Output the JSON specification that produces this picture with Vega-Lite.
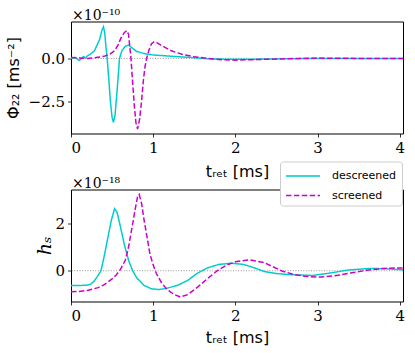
{
  "$schema": "https://vega.github.io/schema/vega-lite/v6.json",
  "padding": {"left": 4, "top": 7.5, "right": 4, "bottom": 2},
  "background": "white",
  "bounds": "flush",
  "spacing": 56,
  "config": {
    "view": {"stroke": "black", "strokeWidth": 1},
    "axis": {
      "grid": false,
      "domain": false,
      "ticks": true,
      "tickColor": "black",
      "tickSize": 3.5,
      "tickWidth": 0.8,
      "labelFont": "DejaVu Serif",
      "labelFontSize": 15,
      "labelColor": "black",
      "labelPadding": 3,
      "titleColor": "black",
      "titleFontWeight": "normal"
    }
  },
  "resolve": {"legend": {"color": "independent", "strokeDash": "independent"}},
  "datasets": {
    "phi": [
      {"t": 0, "v": 0.0, "s": "descreened"},
      {"t": 0.05, "v": 0.05, "s": "descreened"},
      {"t": 0.08, "v": -0.05, "s": "descreened"},
      {"t": 0.1, "v": -0.12, "s": "descreened"},
      {"t": 0.13, "v": 0.0, "s": "descreened"},
      {"t": 0.15, "v": 0.1, "s": "descreened"},
      {"t": 0.18, "v": 0.04, "s": "descreened"},
      {"t": 0.2, "v": 0.15, "s": "descreened"},
      {"t": 0.22, "v": 0.2, "s": "descreened"},
      {"t": 0.25, "v": 0.3, "s": "descreened"},
      {"t": 0.285, "v": 0.44, "s": "descreened"},
      {"t": 0.32, "v": 0.8, "s": "descreened"},
      {"t": 0.35, "v": 1.12, "s": "descreened"},
      {"t": 0.375, "v": 1.6, "s": "descreened"},
      {"t": 0.395, "v": 1.83, "s": "descreened"},
      {"t": 0.41, "v": 1.5, "s": "descreened"},
      {"t": 0.425, "v": 0.7, "s": "descreened"},
      {"t": 0.44, "v": 0.0, "s": "descreened"},
      {"t": 0.46, "v": -1.2, "s": "descreened"},
      {"t": 0.48, "v": -2.5, "s": "descreened"},
      {"t": 0.5, "v": -3.4, "s": "descreened"},
      {"t": 0.516, "v": -3.69, "s": "descreened"},
      {"t": 0.535, "v": -3.3, "s": "descreened"},
      {"t": 0.555, "v": -2.2, "s": "descreened"},
      {"t": 0.575, "v": -1.0, "s": "descreened"},
      {"t": 0.59, "v": 0.0, "s": "descreened"},
      {"t": 0.62, "v": 0.45, "s": "descreened"},
      {"t": 0.66, "v": 0.7, "s": "descreened"},
      {"t": 0.7, "v": 0.77, "s": "descreened"},
      {"t": 0.74, "v": 0.62, "s": "descreened"},
      {"t": 0.8, "v": 0.4, "s": "descreened"},
      {"t": 0.9, "v": 0.27, "s": "descreened"},
      {"t": 1.0, "v": 0.2, "s": "descreened"},
      {"t": 1.15, "v": 0.15, "s": "descreened"},
      {"t": 1.3, "v": 0.1, "s": "descreened"},
      {"t": 1.5, "v": 0.04, "s": "descreened"},
      {"t": 1.7, "v": -0.03, "s": "descreened"},
      {"t": 2.0, "v": -0.05, "s": "descreened"},
      {"t": 2.3, "v": -0.04, "s": "descreened"},
      {"t": 2.6, "v": -0.02, "s": "descreened"},
      {"t": 3.0, "v": 0.0, "s": "descreened"},
      {"t": 3.5, "v": 0.0, "s": "descreened"},
      {"t": 4.04, "v": 0.0, "s": "descreened"},
      {"t": 0, "v": 0.05, "s": "screened"},
      {"t": 0.1, "v": 0.03, "s": "screened"},
      {"t": 0.2, "v": 0.0, "s": "screened"},
      {"t": 0.3, "v": 0.05, "s": "screened"},
      {"t": 0.4, "v": 0.12, "s": "screened"},
      {"t": 0.475, "v": 0.25, "s": "screened"},
      {"t": 0.53, "v": 0.45, "s": "screened"},
      {"t": 0.57, "v": 0.75, "s": "screened"},
      {"t": 0.61, "v": 1.2, "s": "screened"},
      {"t": 0.65, "v": 1.5, "s": "screened"},
      {"t": 0.68, "v": 1.6, "s": "screened"},
      {"t": 0.7, "v": 1.4, "s": "screened"},
      {"t": 0.715, "v": 0.7, "s": "screened"},
      {"t": 0.73, "v": 0.0, "s": "screened"},
      {"t": 0.75, "v": -1.4, "s": "screened"},
      {"t": 0.77, "v": -2.7, "s": "screened"},
      {"t": 0.79, "v": -3.7, "s": "screened"},
      {"t": 0.81, "v": -4.07, "s": "screened"},
      {"t": 0.835, "v": -3.5, "s": "screened"},
      {"t": 0.86, "v": -2.4, "s": "screened"},
      {"t": 0.88, "v": -1.3, "s": "screened"},
      {"t": 0.9, "v": -0.5, "s": "screened"},
      {"t": 0.92, "v": 0.0, "s": "screened"},
      {"t": 0.95, "v": 0.5, "s": "screened"},
      {"t": 0.98, "v": 0.85, "s": "screened"},
      {"t": 1.01, "v": 0.96, "s": "screened"},
      {"t": 1.05, "v": 0.9, "s": "screened"},
      {"t": 1.1, "v": 0.75, "s": "screened"},
      {"t": 1.22, "v": 0.44, "s": "screened"},
      {"t": 1.35, "v": 0.24, "s": "screened"},
      {"t": 1.5, "v": 0.1, "s": "screened"},
      {"t": 1.67, "v": 0.0, "s": "screened"},
      {"t": 1.85, "v": -0.08, "s": "screened"},
      {"t": 2.0, "v": -0.1, "s": "screened"},
      {"t": 2.3, "v": -0.06, "s": "screened"},
      {"t": 2.6, "v": -0.02, "s": "screened"},
      {"t": 3.0, "v": 0.02, "s": "screened"},
      {"t": 3.5, "v": 0.0, "s": "screened"},
      {"t": 4.04, "v": 0.0, "s": "screened"}
    ],
    "h": [
      {"t": 0, "v": -0.63, "s": "descreened"},
      {"t": 0.1, "v": -0.63, "s": "descreened"},
      {"t": 0.2, "v": -0.61, "s": "descreened"},
      {"t": 0.24, "v": -0.57, "s": "descreened"},
      {"t": 0.28, "v": -0.45, "s": "descreened"},
      {"t": 0.32, "v": -0.25, "s": "descreened"},
      {"t": 0.365, "v": 0.0, "s": "descreened"},
      {"t": 0.4, "v": 0.55, "s": "descreened"},
      {"t": 0.45, "v": 1.43, "s": "descreened"},
      {"t": 0.49, "v": 2.14, "s": "descreened"},
      {"t": 0.53, "v": 2.64, "s": "descreened"},
      {"t": 0.56, "v": 2.5, "s": "descreened"},
      {"t": 0.6, "v": 1.9, "s": "descreened"},
      {"t": 0.65, "v": 1.1, "s": "descreened"},
      {"t": 0.7, "v": 0.45, "s": "descreened"},
      {"t": 0.75, "v": 0.0, "s": "descreened"},
      {"t": 0.8, "v": -0.3, "s": "descreened"},
      {"t": 0.89, "v": -0.63, "s": "descreened"},
      {"t": 0.98, "v": -0.77, "s": "descreened"},
      {"t": 1.06, "v": -0.8, "s": "descreened"},
      {"t": 1.15, "v": -0.76, "s": "descreened"},
      {"t": 1.3, "v": -0.62, "s": "descreened"},
      {"t": 1.42, "v": -0.41, "s": "descreened"},
      {"t": 1.54, "v": -0.1, "s": "descreened"},
      {"t": 1.66, "v": 0.12, "s": "descreened"},
      {"t": 1.8, "v": 0.27, "s": "descreened"},
      {"t": 1.95, "v": 0.32, "s": "descreened"},
      {"t": 2.1, "v": 0.27, "s": "descreened"},
      {"t": 2.25, "v": 0.1, "s": "descreened"},
      {"t": 2.36, "v": -0.04, "s": "descreened"},
      {"t": 2.5, "v": -0.12, "s": "descreened"},
      {"t": 2.68, "v": -0.17, "s": "descreened"},
      {"t": 2.94, "v": -0.2, "s": "descreened"},
      {"t": 3.15, "v": -0.1, "s": "descreened"},
      {"t": 3.37, "v": 0.03, "s": "descreened"},
      {"t": 3.65, "v": 0.1, "s": "descreened"},
      {"t": 3.85, "v": 0.08, "s": "descreened"},
      {"t": 4.04, "v": 0.04, "s": "descreened"},
      {"t": 0, "v": -0.9, "s": "screened"},
      {"t": 0.1, "v": -0.88, "s": "screened"},
      {"t": 0.2, "v": -0.84, "s": "screened"},
      {"t": 0.33, "v": -0.72, "s": "screened"},
      {"t": 0.4, "v": -0.6, "s": "screened"},
      {"t": 0.45, "v": -0.48, "s": "screened"},
      {"t": 0.5, "v": -0.35, "s": "screened"},
      {"t": 0.55, "v": -0.18, "s": "screened"},
      {"t": 0.6, "v": 0.05, "s": "screened"},
      {"t": 0.66, "v": 0.44, "s": "screened"},
      {"t": 0.7, "v": 1.0, "s": "screened"},
      {"t": 0.74, "v": 1.79, "s": "screened"},
      {"t": 0.78, "v": 2.6, "s": "screened"},
      {"t": 0.81, "v": 3.15, "s": "screened"},
      {"t": 0.83, "v": 3.25, "s": "screened"},
      {"t": 0.86, "v": 2.85, "s": "screened"},
      {"t": 0.89, "v": 2.14, "s": "screened"},
      {"t": 0.93, "v": 1.35, "s": "screened"},
      {"t": 0.96, "v": 0.72, "s": "screened"},
      {"t": 1.0, "v": 0.25, "s": "screened"},
      {"t": 1.04, "v": -0.13, "s": "screened"},
      {"t": 1.1, "v": -0.5, "s": "screened"},
      {"t": 1.16, "v": -0.77, "s": "screened"},
      {"t": 1.25, "v": -1.0, "s": "screened"},
      {"t": 1.33, "v": -1.12, "s": "screened"},
      {"t": 1.42, "v": -1.02, "s": "screened"},
      {"t": 1.54, "v": -0.7, "s": "screened"},
      {"t": 1.66, "v": -0.34, "s": "screened"},
      {"t": 1.78, "v": 0.0, "s": "screened"},
      {"t": 1.9, "v": 0.25, "s": "screened"},
      {"t": 2.0, "v": 0.38, "s": "screened"},
      {"t": 2.17, "v": 0.47, "s": "screened"},
      {"t": 2.35, "v": 0.35, "s": "screened"},
      {"t": 2.45, "v": 0.18, "s": "screened"},
      {"t": 2.56, "v": 0.0, "s": "screened"},
      {"t": 2.7, "v": -0.15, "s": "screened"},
      {"t": 2.85, "v": -0.24, "s": "screened"},
      {"t": 3.04, "v": -0.27, "s": "screened"},
      {"t": 3.2, "v": -0.22, "s": "screened"},
      {"t": 3.4, "v": -0.1, "s": "screened"},
      {"t": 3.6, "v": 0.02, "s": "screened"},
      {"t": 3.8, "v": 0.1, "s": "screened"},
      {"t": 4.04, "v": 0.12, "s": "screened"}
    ]
  },
  "vconcat": [
    {
      "width": 332,
      "height": 112,
      "layer": [
        {
          "data": {"values": [{}]},
          "mark": {"type": "rule", "color": "#9a9a9a", "strokeDash": [1, 1.6], "strokeWidth": 1},
          "encoding": {"y": {"datum": 0, "type": "quantitative"}}
        },
        {
          "data": {"values": [{"label": "×10⁻¹⁰"}]},
          "mark": {"type": "text", "align": "left", "baseline": "alphabetic", "dx": 1, "dy": -2, "font": "DejaVu Serif", "fontSize": 14, "color": "black"},
          "encoding": {"x": {"datum": 0, "type": "quantitative"}, "y": {"datum": 2.13, "type": "quantitative"}, "text": {"field": "label"}}
        },
        {
          "data": {"name": "phi"},
          "mark": {"type": "line", "strokeWidth": 1.5},
          "encoding": {
            "x": {"field": "t", "type": "quantitative", "scale": {"domain": [0, 4.04], "nice": false, "zero": false},
                  "axis": {"values": [0, 1, 2, 3, 4], "format": "d", "title": "tᵣₑₜ [ms]", "titleFont": "DejaVu Sans", "titleFontSize": 16, "titlePadding": 8}},
            "y": {"field": "v", "type": "quantitative", "scale": {"domain": [-4.33, 2.13], "nice": false, "zero": false},
                  "axis": {"values": [-2.5, 0], "format": ".1f", "title": "Φ₂₂ [ms⁻²]", "titleFont": "DejaVu Sans", "titleFontSize": 16, "titleX": -58, "titleY": 56, "titleBaseline": "middle"}},
            "color": {"field": "s", "type": "nominal", "scale": {"domain": ["descreened", "screened"], "range": ["#00cccc", "#cc00cc"]}, "legend": null},
            "strokeDash": {"field": "s", "type": "nominal", "scale": {"domain": ["descreened", "screened"], "range": [[1, 0], [5.5, 2.4]]}, "legend": null}
          }
        }
      ]
    },
    {
      "width": 332,
      "height": 112,
      "layer": [
        {
          "data": {"values": [{}]},
          "mark": {"type": "rule", "color": "#9a9a9a", "strokeDash": [1, 1.6], "strokeWidth": 1},
          "encoding": {"y": {"datum": 0, "type": "quantitative"}}
        },
        {
          "data": {"values": [{"label": "×10⁻¹⁸"}]},
          "mark": {"type": "text", "align": "left", "baseline": "alphabetic", "dx": 1, "dy": -2, "font": "DejaVu Serif", "fontSize": 14, "color": "black"},
          "encoding": {"x": {"datum": 0, "type": "quantitative"}, "y": {"datum": 3.46, "type": "quantitative"}, "text": {"field": "label"}}
        },
        {
          "data": {"name": "h"},
          "mark": {"type": "line", "strokeWidth": 1.5},
          "encoding": {
            "x": {"field": "t", "type": "quantitative", "scale": {"domain": [0, 4.04], "nice": false, "zero": false},
                  "axis": {"values": [0, 1, 2, 3, 4], "format": "d", "title": "tᵣₑₜ [ms]", "titleFont": "DejaVu Sans", "titleFontSize": 16, "titlePadding": 6}},
            "y": {"field": "v", "type": "quantitative", "scale": {"domain": [-1.31, 3.46], "nice": false, "zero": false},
                  "axis": {"values": [0, 2], "format": "d", "title": "hₛ", "titleFont": "DejaVu Serif", "titleFontStyle": "italic", "titleFontSize": 19, "titleX": -27, "titleY": 56, "titleBaseline": "middle"}},
            "color": {"field": "s", "type": "nominal", "scale": {"domain": ["descreened", "screened"], "range": ["#00cccc", "#cc00cc"]},
                      "legend": {"title": null, "orient": "none", "legendX": 209, "legendY": -28, "padding": 5, "fillColor": "white", "strokeColor": "#cccccc", "cornerRadius": 3, "symbolType": "M-1,0H3", "symbolSize": 289, "symbolStrokeWidth": 1.5, "labelFont": "DejaVu Sans", "labelFontSize": 11, "labelColor": "black", "labelOffset": 28, "rowPadding": 4.5}},
            "strokeDash": {"field": "s", "type": "nominal", "scale": {"domain": ["descreened", "screened"], "range": [[1, 0], [5.5, 2.4]]},
                      "legend": {"title": null, "orient": "none", "legendX": 209, "legendY": -28, "padding": 5, "fillColor": "white", "strokeColor": "#cccccc", "cornerRadius": 3, "symbolType": "M-1,0H3", "symbolSize": 289, "symbolStrokeWidth": 1.5, "labelFont": "DejaVu Sans", "labelFontSize": 11, "labelColor": "black", "labelOffset": 28, "rowPadding": 4.5}}
          }
        }
      ]
    }
  ]
}
